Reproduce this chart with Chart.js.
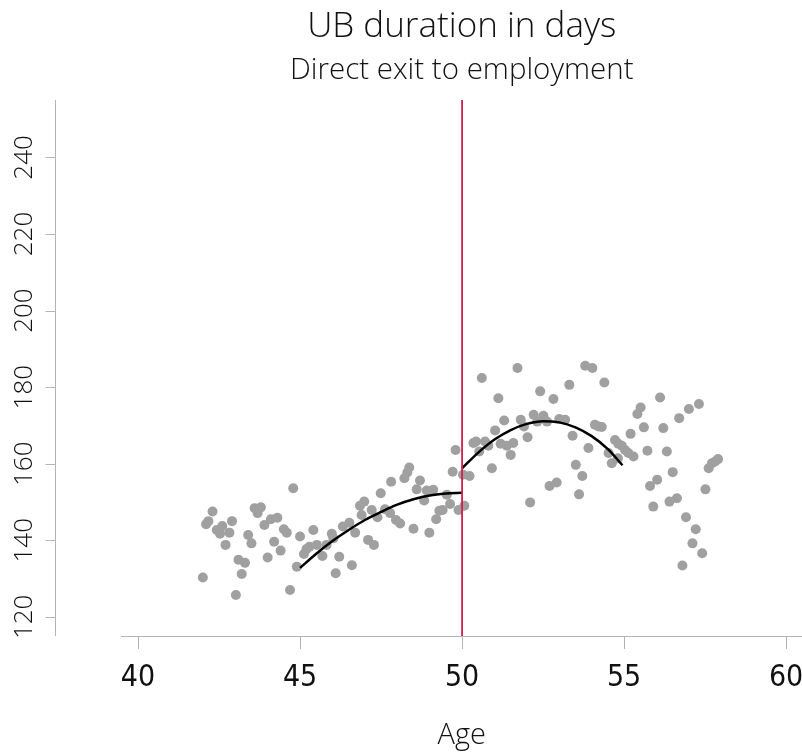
<!DOCTYPE html>
<html>
<head>
<meta charset="utf-8">
<title>UB duration in days</title>
<script src="https://cdn.jsdelivr.net/npm/chart.js@4.4.1/dist/chart.umd.min.js"></script>
<style>
  html, body { margin: 0; padding: 0; background: #fff; }
  #wrap { width: 802px; height: 755px; }
</style>
</head>
<body>
<div id="wrap"><canvas id="rdChart" width="802" height="755"></canvas></div>
<script>
// Binned means of UB duration by age
const ageBins = [
  42.0, 42.1, 42.17, 42.3, 42.43, 42.53, 42.6, 42.7, 42.82, 42.9,
  43.02, 43.1, 43.2, 43.3, 43.4, 43.5, 43.6, 43.69, 43.79, 43.9,
  44.0, 44.1, 44.2, 44.3, 44.4, 44.5, 44.59, 44.69, 44.79, 44.9,
  45.0, 45.12, 45.2, 45.29, 45.41, 45.52, 45.69, 45.82, 45.98,
  46.03, 46.1, 46.21, 46.32, 46.52, 46.6, 46.7, 46.85, 46.9, 46.98,
  47.1, 47.21, 47.28, 47.39, 47.49, 47.62, 47.78, 47.81, 47.96,
  48.09, 48.22, 48.31, 48.37, 48.5, 48.6, 48.7, 48.83, 48.91, 48.99,
  49.11, 49.2, 49.3, 49.4, 49.53, 49.63, 49.71, 49.8, 49.89,
  50.07, 50.03, 50.23, 50.35, 50.43, 50.53, 50.61, 50.71, 50.81, 50.92,
  51.02, 51.12, 51.19, 51.3, 51.38, 51.5, 51.58, 51.71, 51.81, 51.91,
  52.02, 52.1, 52.21, 52.32, 52.41, 52.51, 52.62, 52.7, 52.82, 52.92,
  53.0, 53.18, 53.31, 53.41, 53.51, 53.61, 53.71, 53.8, 53.9,
  54.02, 54.1, 54.21, 54.31, 54.39, 54.52, 54.62, 54.72, 54.81, 54.82, 54.93,
  55.03, 55.13, 55.2, 55.29, 55.41, 55.51, 55.61, 55.72, 55.8, 55.9,
  56.02, 56.11, 56.21, 56.32, 56.4, 56.5, 56.63, 56.7, 56.8, 56.91,
  57.0, 57.11, 57.21, 57.31, 57.41, 57.51, 57.61, 57.71, 57.81, 57.9
];
const ubDays = [
  130.3, 144.2, 145.0, 147.5, 142.7, 141.7, 143.7, 138.8, 142.0, 145.0,
  125.7, 134.9, 131.2, 134.1, 141.4, 139.2, 148.4, 147.1, 148.6, 144.0,
  135.5, 145.5, 139.6, 145.9, 137.3, 142.9, 142.0, 127.0, 153.6, 133.1,
  141.0, 136.4, 137.7, 138.3, 142.7, 138.8, 135.9, 138.8, 141.7,
  140.5, 131.4, 135.7, 143.6, 144.6, 133.5, 142.0, 149.0, 146.6, 150.1,
  140.1, 147.9, 138.8, 146.0, 152.3, 148.1, 147.1, 155.3, 145.3,
  144.4, 156.2, 157.7, 159.0, 143.0, 153.3, 155.6, 150.4, 153.0, 142.0,
  153.2, 145.5, 147.7, 147.9, 151.9, 149.5, 157.9, 163.6, 147.9,
  149.0, 157.1, 156.8, 165.4, 165.8, 163.2, 182.4, 165.8, 164.7, 158.8,
  168.7, 177.1, 165.2, 171.3, 164.7, 162.3, 165.4, 185.0, 171.5, 169.7,
  166.9, 149.9, 172.8, 171.0, 178.9, 172.5, 171.0, 154.2, 176.9, 155.1,
  171.7, 171.5, 180.6, 167.3, 159.7, 152.0, 156.8, 185.6, 164.1,
  185.0, 170.2, 169.7, 169.6, 181.2, 162.8, 160.1, 166.2, 161.4, 165.2, 164.7,
  163.6, 162.8, 167.8, 161.9, 173.0, 174.7, 169.5, 163.4, 154.2, 148.8,
  155.8, 177.3, 169.3, 163.2, 150.1, 157.8, 151.0, 171.9, 133.4, 146.0,
  174.3, 139.2, 142.9, 175.6, 136.6, 153.3, 158.8, 160.1, 160.6, 161.2
];

// Fitted curves left and right of the cutoff
const fitLeftAge   = [45, 45.5, 46, 46.5, 47, 47.5, 48, 48.5, 49, 49.5, 50];
const fitLeftDays  = [132.8, 136.5, 139.8, 142.7, 145.3, 147.4, 149.3, 150.7, 151.7, 152.2, 152.4];
const fitRightAge  = [50, 50.5, 51, 51.5, 52, 52.5, 53, 53.5, 54, 54.5, 54.95];
const fitRightDays = [158.8, 162.9, 166.3, 168.8, 170.4, 171.1, 170.8, 169.5, 167.2, 163.8, 159.6];

const cutoffAge = 50;
const xTicks = [40, 45, 50, 55, 60];
const yTicks = [120, 140, 160, 180, 200, 220, 240];

// Axis ranges
const X_MIN = 39.49, X_MAX = 60.49;
const Y_MIN = 115, Y_MAX = 255;

const AXIS_GREY = "#b4b4b4";
const TEXT = "#111111";
const FONT_LIGHT = '"Open Sans", "Liberation Sans", Arial, sans-serif';
const FONT_NARROW = '"Liberation Sans Narrow", "Arial Narrow", "DejaVu Sans Condensed", sans-serif';

// y axis line sits apart from the plot area (Stata style)
const Y_LINE_X = 55.5, Y_TICK_LEN = 10;

function pairs(xs, ys) {
  return xs.map(function (x, i) { return { x: x, y: ys[i] }; });
}

// Draws the detached y axis line and its tick marks
const detachedYAxis = {
  id: "detachedYAxis",
  afterDraw: function (chart) {
    const ctx = chart.ctx;
    const ys = chart.scales.y;
    const area = chart.chartArea;
    ctx.save();
    ctx.strokeStyle = AXIS_GREY;
    ctx.lineWidth = 1;
    ctx.beginPath();
    ctx.moveTo(Y_LINE_X, area.top);
    ctx.lineTo(Y_LINE_X, area.bottom);
    yTicks.forEach(function (v) {
      const py = Math.round(ys.getPixelForValue(v)) + 0.5;
      ctx.moveTo(Y_LINE_X - Y_TICK_LEN, py);
      ctx.lineTo(Y_LINE_X, py);
    });
    ctx.stroke();
    ctx.restore();
  }
};

new Chart(document.getElementById("rdChart"), {
  type: "scatter",
  data: {
    datasets: [
      {
        type: "line",
        data: [{ x: cutoffAge, y: Y_MIN }, { x: cutoffAge, y: Y_MAX }],
        borderColor: "#d11f4c",
        borderWidth: 1.8,
        pointRadius: 0,
        order: 0
      },
      {
        type: "line",
        data: pairs(fitLeftAge, fitLeftDays),
        borderColor: "#000000",
        borderWidth: 2.5,
        pointRadius: 0,
        cubicInterpolationMode: "monotone",
        order: 1
      },
      {
        type: "line",
        data: pairs(fitRightAge, fitRightDays),
        borderColor: "#000000",
        borderWidth: 2.5,
        pointRadius: 0,
        cubicInterpolationMode: "monotone",
        order: 1
      },
      {
        data: pairs(ageBins, ubDays),
        backgroundColor: "#a0a0a0",
        borderWidth: 0,
        pointRadius: 5,
        order: 2
      }
    ]
  },
  options: {
    responsive: false,
    animation: false,
    devicePixelRatio: 1,
    layout: { padding: 0, autoPadding: false },
    plugins: {
      legend: { display: false },
      tooltip: { enabled: false },
      title: {
        display: true,
        fullSize: false,
        text: "UB duration in days",
        color: TEXT,
        font: { family: FONT_LIGHT, size: 35, weight: 300 },
        padding: { top: 6, bottom: 5 }
      },
      subtitle: {
        display: true,
        fullSize: false,
        text: "Direct exit to employment",
        color: TEXT,
        font: { family: FONT_LIGHT, size: 29.5, weight: 300 },
        padding: { top: 0, bottom: 11.6 }
      }
    },
    scales: {
      x: {
        type: "linear",
        min: X_MIN,
        max: X_MAX,
        afterBuildTicks: function (s) { s.ticks = xTicks.map(function (v) { return { value: v }; }); },
        afterFit: function (s) { s.height = 119; s.paddingLeft = 0; s.paddingRight = 0; },
        border: { display: true, color: AXIS_GREY, width: 1 },
        grid: { drawOnChartArea: false, drawTicks: true, tickLength: 13, color: AXIS_GREY },
        ticks: {
          autoSkip: false,
          maxRotation: 0,
          padding: 11,
          color: TEXT,
          font: { family: FONT_NARROW, size: 30 }
        },
        title: {
          display: true,
          text: "Age",
          color: TEXT,
          font: { family: FONT_LIGHT, size: 29, weight: 300 },
          padding: { top: 0, bottom: 2 }
        }
      },
      y: {
        type: "linear",
        min: Y_MIN,
        max: Y_MAX,
        afterBuildTicks: function (s) { s.ticks = yTicks.map(function (v) { return { value: v }; }); },
        afterFit: function (s) { s.width = 121.5; s.paddingTop = 0; s.paddingBottom = 0; },
        border: { display: false },
        grid: { display: false },
        ticks: {
          minRotation: 90,
          maxRotation: 90,
          crossAlign: "center",
          padding: 67,
          color: TEXT,
          font: { family: FONT_LIGHT, size: 26, weight: 300 }
        }
      }
    }
  },
  plugins: [detachedYAxis]
});
</script>
</body>
</html>
